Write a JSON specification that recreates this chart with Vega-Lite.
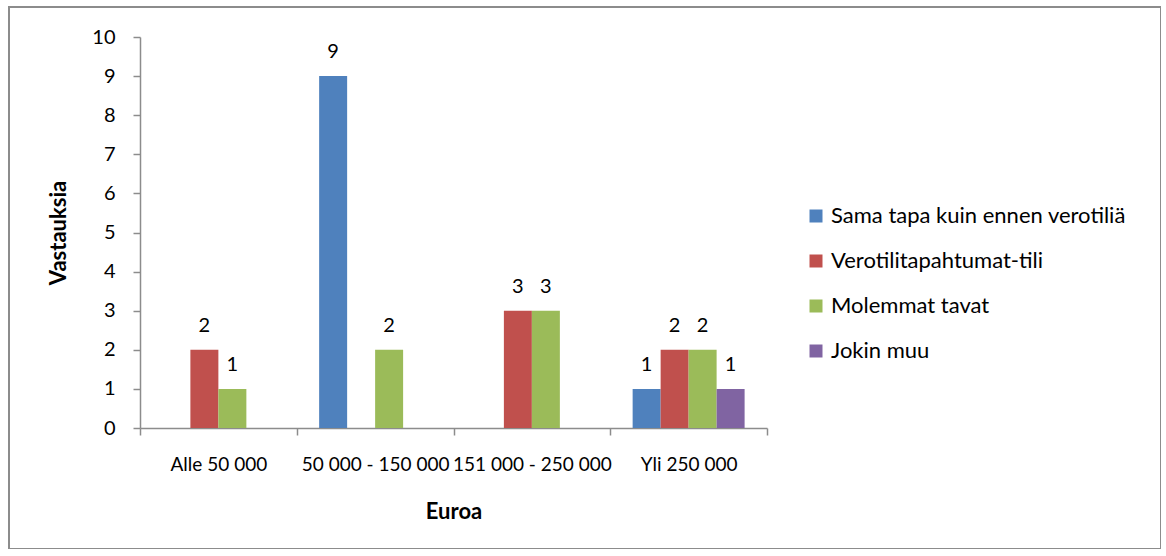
{
  "$schema": "https://vega.github.io/schema/vega-lite/v6.json",
  "width": 1152,
  "height": 542,
  "autosize": {"type": "none"},
  "padding": {"left": 9, "top": 7, "right": 0, "bottom": 0},
  "background": "white",
  "config": {
    "font": "Lato",
    "view": {"stroke": "#8c8c8c", "strokeWidth": 2},
    "axis": {
      "grid": false,
      "domainColor": "#8c8c8c",
      "domainWidth": 1.5,
      "tickColor": "#8c8c8c",
      "tickWidth": 1.5,
      "tickSize": 7,
      "labelColor": "#000000",
      "labelFont": "Lato",
      "labelFontSize": 20,
      "titleColor": "#000000",
      "titleFont": "Lato",
      "titleFontSize": 22,
      "titleFontWeight": "bold"
    },
    "legend": {
      "labelFont": "Lato",
      "labelFontSize": 22,
      "labelColor": "#000000",
      "labelLimit": 0
    }
  },
  "data": {
    "values": [
      {"range": "Alle 50 000", "series": "Sama tapa kuin ennen verotiliä", "value": 0},
      {"range": "Alle 50 000", "series": "Verotilitapahtumat-tili", "value": 2},
      {"range": "Alle 50 000", "series": "Molemmat tavat", "value": 1},
      {"range": "Alle 50 000", "series": "Jokin muu", "value": 0},
      {"range": "50 000 - 150 000", "series": "Sama tapa kuin ennen verotiliä", "value": 9},
      {"range": "50 000 - 150 000", "series": "Verotilitapahtumat-tili", "value": 0},
      {"range": "50 000 - 150 000", "series": "Molemmat tavat", "value": 2},
      {"range": "50 000 - 150 000", "series": "Jokin muu", "value": 0},
      {"range": "151 000 - 250 000", "series": "Sama tapa kuin ennen verotiliä", "value": 0},
      {"range": "151 000 - 250 000", "series": "Verotilitapahtumat-tili", "value": 3},
      {"range": "151 000 - 250 000", "series": "Molemmat tavat", "value": 3},
      {"range": "151 000 - 250 000", "series": "Jokin muu", "value": 0},
      {"range": "Yli 250 000", "series": "Sama tapa kuin ennen verotiliä", "value": 1},
      {"range": "Yli 250 000", "series": "Verotilitapahtumat-tili", "value": 2},
      {"range": "Yli 250 000", "series": "Molemmat tavat", "value": 2},
      {"range": "Yli 250 000", "series": "Jokin muu", "value": 1}
    ]
  },
  "encoding": {
    "x": {
      "field": "range",
      "type": "nominal",
      "sort": ["Alle 50 000", "50 000 - 150 000", "151 000 - 250 000", "Yli 250 000"],
      "scale": {"range": [131, 758], "paddingInner": 0, "paddingOuter": 0},
      "axis": {
        "title": "Euroa",
        "labelAngle": 0,
        "labelFontSize": 19,
        "offset": -121,
        "tickBand": "extent",
        "labelPadding": 20,
        "titlePadding": 27
      }
    },
    "xOffset": {
      "field": "series",
      "type": "nominal",
      "scale": {
        "domain": ["Sama tapa kuin ennen verotiliä", "Verotilitapahtumat-tili", "Molemmat tavat", "Jokin muu"],
        "paddingInner": 0,
        "paddingOuter": 0.8
      }
    },
    "y": {
      "field": "value",
      "type": "quantitative",
      "scale": {"domain": [0, 10], "range": [421, 30], "nice": false},
      "axis": {
        "title": "Vastauksia",
        "offset": -131,
        "values": [0, 1, 2, 3, 4, 5, 6, 7, 8, 9, 10],
        "labelPadding": 18,
        "titlePadding": 21
      }
    }
  },
  "layer": [
    {
      "mark": {"type": "bar"},
      "encoding": {
        "color": {
          "field": "series",
          "type": "nominal",
          "scale": {
            "domain": ["Sama tapa kuin ennen verotiliä", "Verotilitapahtumat-tili", "Molemmat tavat", "Jokin muu"],
            "range": ["#4F81BD", "#C0504D", "#9BBB59", "#8064A2"]
          },
          "legend": {
            "title": null,
            "orient": "none",
            "legendX": 796,
            "legendY": 198,
            "symbolType": "square",
            "symbolSize": 169,
            "symbolStrokeWidth": 0,
            "labelOffset": 4,
            "rowPadding": 23
          }
        }
      }
    },
    {
      "transform": [{"filter": "datum.value > 0"}],
      "mark": {"type": "text", "baseline": "alphabetic", "dy": -18, "fontSize": 20, "font": "Lato", "color": "#000000"},
      "encoding": {
        "text": {"field": "value", "type": "quantitative"}
      }
    }
  ]
}
